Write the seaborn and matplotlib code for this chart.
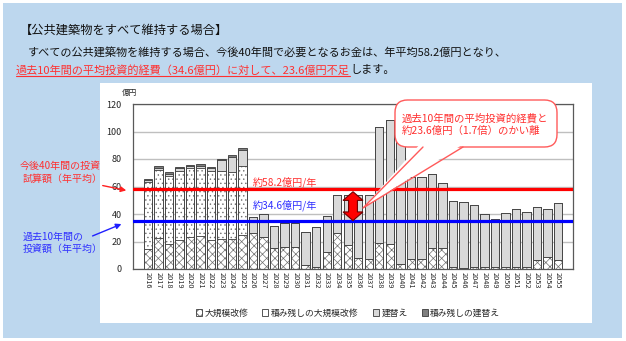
import matplotlib
matplotlib.use("Agg")
import matplotlib.pyplot as plt
import matplotlib.patches as mpatches
import matplotlib.colors as mcolors
from matplotlib.lines import Line2D
import numpy as np
import pandas as pd
import seaborn as sns

# ---------------- data ----------------
years = ["2016", "2017", "2018", "2019", "2020", "2021", "2022", "2023", "2024", "2025",
         "2026", "2027", "2028", "2029", "2030", "2031", "2032", "2033", "2034", "2035",
         "2036", "2037", "2038", "2039", "2040", "2041", "2042", "2043", "2044", "2045",
         "2046", "2047", "2048", "2049", "2050", "2051", "2052", "2053", "2054", "2055"]
large_repair = [14.5, 22.5, 18, 21, 23.5, 24, 21, 22, 21.6, 24.7,
                26, 23.5, 15, 16.2, 16.2, 3, 1.7, 12.6, 26, 17.5,
                8.2, 7, 18.7, 18, 3.4, 7, 7, 15.5, 15.5, 1.7,
                0.7, 1.7, 1.7, 1.7, 1.7, 1.7, 1.7, 6.5, 9, 6.5]
deferred_repair = [48.7, 49.3, 49.6, 50, 49.7, 49.2, 50, 49, 49.1, 50.1,
                   0, 0, 0, 0, 0, 0, 0, 0, 0, 0,
                   0, 0, 0, 0, 0, 0, 0, 0, 0, 0,
                   0, 0, 0, 0, 0, 0, 0, 0, 0, 0]
rebuild = [1.2, 1.7, 1.7, 2.2, 1.7, 1.9, 2.2, 8.2, 10.7, 12,
           11.8, 16.3, 16.3, 17.3, 17.3, 23.7, 28.6, 26.2, 27.8, 36.3,
           45.6, 46.8, 84.8, 90.4, 96.6, 60.2, 60.2, 53.3, 46.8, 48,
           48.3, 44.8, 38.3, 34.4, 38.8, 41.9, 39.5, 38.3, 34.6, 41.3]
deferred_rebuild = [0.8, 1.2, 1.2, 1.2, 1.0, 1.2, 1.0, 1.0, 1.2, 1.2,
                    0, 0, 0, 0, 0, 0, 0, 0, 0, 0,
                    0, 0, 0, 0, 0, 0, 0, 0, 0, 0,
                    0, 0, 0, 0, 0, 0, 0, 0, 0, 0]
series_names = ["大規模改修", "積み残しの大規模改修", "建替え", "積み残しの建替え"]
future_avg = 58.2
past_avg = 34.6
y_ticks = [0, 20, 40, 60, 80, 100, 120]

# ---------------- style ----------------
sns.set_style("white")
plt.rcParams["font.family"] = ["Noto Sans CJK JP", "DejaVu Sans"]
plt.rcParams["hatch.linewidth"] = 0.5

W, H = 626, 341
def fx(x):
    return x / W
def fy(y):
    return 1 - y / H

RED_T = "#FF3030"
BLUE_T = "#3030FF"
EDGE = "#3A3A3A"

fig = plt.figure(figsize=(W / 100, H / 100), dpi=100)
fig.patch.set_facecolor("white")
fig.add_artist(mpatches.Rectangle((fx(3), fy(338)), fx(619), 335 / H,
                                  facecolor="#BDD7EE", edgecolor="none",
                                  transform=fig.transFigure, zorder=-10))
fig.add_artist(mpatches.Rectangle((fx(100), fy(323)), fx(492), 240 / H,
                                  facecolor="white", edgecolor="none",
                                  transform=fig.transFigure, zorder=-9))

ax = fig.add_axes([fx(133), fy(269), 440 / W, 165 / H])
ax.set_facecolor("white")

df = pd.DataFrame({"year": years, "a": large_repair, "b": deferred_repair,
                   "c": rebuild, "d": deferred_rebuild})
df["cum1"] = df["a"]
df["cum2"] = df["cum1"] + df["b"]
df["cum3"] = df["cum2"] + df["c"]
df["cum4"] = df["cum3"] + df["d"]

layers = [
    ("cum4", "#7F7F7F", None, None),
    ("cum3", "#D9D9D9", None, None),
    ("cum2", "white", "....", "#707070"),
    ("cum1", "white", "xxxx", "#707070"),
]
for col, face, hatch, hcol in layers:
    n_before = len(ax.patches)
    kw = {}
    if hatch:
        kw["hatch"] = hatch
    sns.barplot(data=df, x="year", y=col, order=years, color=face, saturation=1,
                width=0.8, edgecolor=EDGE, linewidth=0.6, errorbar=None, ax=ax,
                zorder=2, **kw)
    if hatch:
        for p in ax.patches[n_before:]:
            if hasattr(p, "set_hatchcolor"):
                p.set_hatchcolor(hcol)
            else:
                p._hatch_color = mcolors.to_rgba(hcol)

ax.set_xlim(-1.43, 40.43)
ax.set_ylim(0, 120)
ax.set_yticks(y_ticks)
ax.set_yticklabels([str(v) for v in y_ticks], fontsize=6.5)
ax.tick_params(axis="y", length=0, pad=8)
ax.tick_params(axis="x", length=0, pad=2.5, labelsize=5.3, labelrotation=-90)
ax.set_xlabel("")
ax.set_ylabel("")
ax.yaxis.grid(True, color="#BFBFBF", linewidth=1.0, zorder=0)
ax.set_axisbelow(True)
for s in ax.spines.values():
    s.set_visible(True)
    s.set_color("#595959")
    s.set_linewidth(0.9)

# average lines
ax.axhline(future_avg, color="#FF0000", linewidth=2.3, zorder=5)
ax.axhline(past_avg, color="#0000FF", linewidth=2.3, zorder=5)
ax.text(10.0, future_avg + 4.6, "約58.2億円/年", color=RED_T, fontsize=7.3,
        ha="left", va="center", zorder=6)
ax.text(10.0, past_avg + 11.8, "約34.6億円/年", color=BLUE_T, fontsize=7.3,
        ha="left", va="center", zorder=6)

# double-headed red arrow between the lines
xc, hwh, hws, hl = 19.5, 0.95, 0.42, 6.3
top, bot = future_avg - 2.0, past_avg + 0.6
arrow_pts = [(xc, top), (xc + hwh, top - hl), (xc + hws, top - hl), (xc + hws, bot + hl),
             (xc + hwh, bot + hl), (xc, bot), (xc - hwh, bot + hl), (xc - hws, bot + hl),
             (xc - hws, top - hl), (xc - hwh, top - hl)]
ax.add_patch(mpatches.Polygon(arrow_pts, closed=True, facecolor="#FF0000",
                              edgecolor="#700000", linewidth=0.8, zorder=7))

# callout
wedge = mpatches.Polygon([(fx(421), fy(143)), (fx(465), fy(143)), (fx(363), fy(208))],
                         closed=True, facecolor="white", edgecolor="none",
                         transform=fig.transFigure, zorder=11)
box = mpatches.FancyBboxPatch((fx(395), fy(147)), fx(162), 47 / H,
                              boxstyle="round,pad=0,rounding_size=0.02",
                              facecolor="white", edgecolor="#FF5A5A", linewidth=1.0,
                              transform=fig.transFigure, zorder=10,
                              mutation_aspect=W / H)
fig.add_artist(box)
fig.add_artist(wedge)
fig.add_artist(Line2D([fx(423), fx(363), fx(463)], [fy(147), fy(208), fy(147)],
                      color="#FF5A5A", linewidth=1.0, transform=fig.transFigure, zorder=12))
fig.text(fx(402), fy(118), "過去10年間の平均投資的経費と", color=RED_T, fontsize=7.5,
         ha="left", va="center", zorder=13)
fig.text(fx(402), fy(131), "約23.6億円（1.7倍）のかい離", color=RED_T, fontsize=7.5,
         ha="left", va="center", zorder=13)

# y unit
fig.text(fx(130), fy(93), "億円", fontsize=5.5, ha="center", va="center")

# left labels and arrows
fig.text(fx(20), fy(166), "今後40年間の投資", color=RED_T, fontsize=7.2, ha="left", va="center")
fig.text(fx(23), fy(179), "試算額（年平均）", color=RED_T, fontsize=7.2, ha="left", va="center")
fig.text(fx(23), fy(237), "過去10年間の", color=BLUE_T, fontsize=7.2, ha="left", va="center")
fig.text(fx(23), fy(249), "投資額（年平均）", color=BLUE_T, fontsize=7.2, ha="left", va="center")
fig.add_artist(mpatches.FancyArrowPatch((fx(100), fy(185)), (fx(129), fy(191)),
                                        arrowstyle="-|>", mutation_scale=8, color="#FF2020",
                                        linewidth=1.0, transform=fig.transFigure, zorder=12))
fig.add_artist(mpatches.FancyArrowPatch((fx(90), fy(237)), (fx(124), fy(223)),
                                        arrowstyle="-|>", mutation_scale=8, color="#2020FF",
                                        linewidth=1.0, transform=fig.transFigure, zorder=12))

# titles
fig.text(fx(20), fy(30), "【公共建築物をすべて維持する場合】", fontsize=8.8, ha="left",
         va="center", color="#111111")
fig.text(fx(28), fy(52), "すべての公共建築物を維持する場合、今後40年間で必要となるお金は、年平均58.2億円となり、",
         fontsize=8.0, ha="left", va="center", color="#111111")
t_red = fig.text(fx(16), fy(70), "過去10年間の平均投資的経費（34.6億円）に対して、23.6億円不足",
                 fontsize=8.0, ha="left", va="center", color=RED_T)
fig.canvas.draw()
renderer = fig.canvas.get_renderer()
bb = t_red.get_window_extent(renderer)
fig.text(bb.x1 / W, fy(70), "します。", fontsize=8.0, ha="left", va="center", color="#111111")
fig.add_artist(Line2D([bb.x0 / W, bb.x1 / W], [(bb.y0 - 0.5) / H] * 2, color=RED_T,
                      linewidth=0.8, transform=fig.transFigure))

# legend
handles = []
h1 = mpatches.Patch(facecolor="white", edgecolor=EDGE, hatch="xxxx", linewidth=0.6,
                    label=series_names[0])
h2 = mpatches.Patch(facecolor="white", edgecolor=EDGE, linewidth=0.6, label=series_names[1])
h3 = mpatches.Patch(facecolor="#D9D9D9", edgecolor=EDGE, linewidth=0.6, label=series_names[2])
h4 = mpatches.Patch(facecolor="#7F7F7F", edgecolor=EDGE, linewidth=0.6, label=series_names[3])
handles = [h1, h2, h3, h4]
fig.legend(handles=handles, loc="center", bbox_to_anchor=(fx(348), fy(313)), ncol=4,
           frameon=False, fontsize=6.3, handlelength=0.7, handleheight=0.7,
           handletextpad=0.3, columnspacing=1.6, borderaxespad=0)

fig.savefig("out.png", dpi=100, facecolor="white")
